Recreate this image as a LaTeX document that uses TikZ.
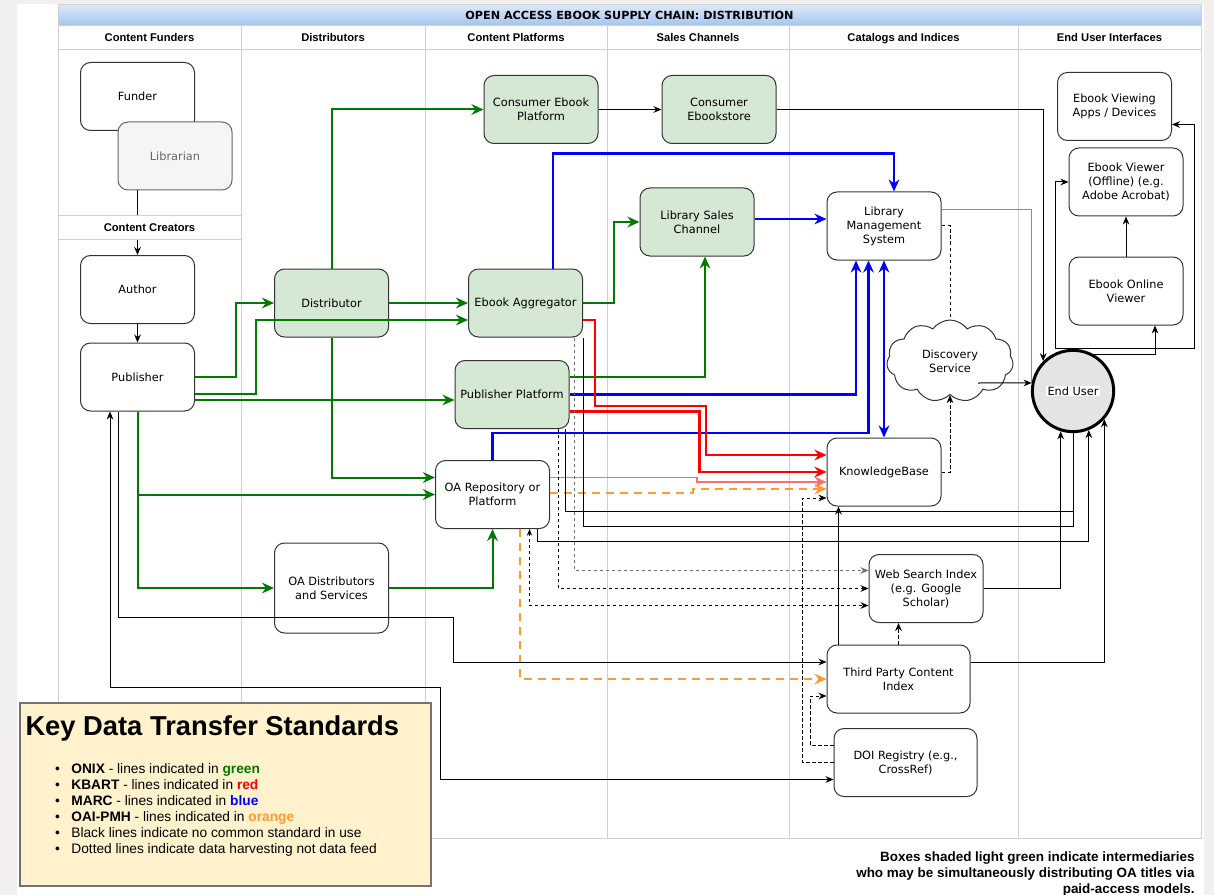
\documentclass[tikz,border=0pt]{standalone}
\usepackage{fontspec}
\setmainfont{DejaVu Sans}
\newfontfamily\arialfont{Liberation Sans}
\usetikzlibrary{arrows.meta,shapes.symbols,calc}

\definecolor{boxgreen}{RGB}{213,232,212}
\definecolor{librgray}{RGB}{245,245,245}
\definecolor{usergray}{RGB}{228,228,228}
\definecolor{onixgreen}{RGB}{0,122,0}
\definecolor{kbartred}{RGB}{255,0,0}
\definecolor{kbartlight}{RGB}{255,110,110}
\definecolor{marcblue}{RGB}{0,0,255}
\definecolor{oaiorange}{RGB}{255,153,51}
\definecolor{lanegray}{RGB}{208,208,208}
\definecolor{keyyellow}{RGB}{255,242,204}
\definecolor{sidegray}{RGB}{241,240,238}
\definecolor{titletop}{RGB}{218,232,252}
\definecolor{titlebottom}{RGB}{166,194,236}

\tikzset{every picture/.style={line width=0.75pt}}
\tikzset{
  box/.style={draw=black!80, fill=white, rounded corners=7.5pt, minimum width=85.5pt, minimum height=51pt, inner sep=1pt, align=center, font=\fontsize{8.5}{10.5}\selectfont},
  greenbox/.style={box, fill=boxgreen},
  widebox/.style={box, minimum width=107.25pt},
  lane/.style={draw=lanegray},
  lanehead/.style={font=\arialfont\bfseries\fontsize{8.4}{10}\selectfont, text height=6.2pt, text depth=1.6pt},
  feed/.style={draw=black, -{Stealth[length=6pt,width=5pt]}},
  harvest/.style={feed, dash pattern=on 2.5pt off 2pt},
  onix/.style={draw=onixgreen, line width=1.5pt, -{Stealth[length=9pt,width=8pt]}},
  kbart/.style={draw=kbartred, line width=1.8pt, -{Stealth[length=9pt,width=8pt]}},
  marc/.style={draw=marcblue, line width=1.8pt, -{Stealth[length=9pt,width=8pt]}},
  oaipmh/.style={draw=oaiorange, line width=1.5pt, dash pattern=on 6pt off 4.5pt, -{Stealth[length=9pt,width=8pt]}},
  keyline/.style={anchor=base west, inner sep=0pt, font=\arialfont\fontsize{10.3}{12}\selectfont},
  notetext/.style={anchor=base east, inner sep=0pt, font=\arialfont\bfseries\fontsize{10.1}{12}\selectfont},
}

\begin{document}
\begin{tikzpicture}[x=0.75pt,y=0.75pt,yscale=-1,xscale=1]
        \useasboundingbox (0,0) rectangle (1214,895);

        % page and pool
        \fill[white] (0,0) rectangle (1214,895);
        \fill[sidegray] (0,0) rectangle (17,895);
        \fill[sidegray] (0,0) rectangle (1214,4);
        \fill[sidegray] (1204,0) rectangle (1214,895);
        \draw[lane] (58,5) rectangle (1201,838);
        \shade[top color=titletop, bottom color=titlebottom, draw=lanegray] (58,5) rectangle (1201,26);
        \draw[lane] (58,50) -- (1201,50);
        \foreach \lx in {241,425,607,789,1018}
            \draw[lane] (\lx,26) -- (\lx,838);

        % Text Node
        \node[font=\bfseries\fontsize{8.4}{10}\selectfont] (title) at (629.5,15.5) {OPEN ACCESS EBOOK SUPPLY CHAIN: DISTRIBUTION};
        \foreach \cx/\lab [count=\i] in {149.5/Content Funders, 333/Distributors, 516/Content Platforms, 698/Sales Channels, 903.5/Catalogs and Indices, 1109.5/End User Interfaces}
            \node[lanehead] (lane\i) at (\cx,38) {\lab};

        % funders and creators
        \node[box] (funder) at (137.5,96.5) {Funder};
        \node[box] (author) at (137.5,289.5) {Author};
        \draw[feed] (funder) -- (author);
        \node[box, fill=librgray, draw=black!60, text=black!60] (librarian) at (175,156) {Librarian};
        \node[lanehead, draw=lanegray, fill=white, minimum width=137.25pt, minimum height=18pt] (creators) at (149.5,228) {Content Creators};
        \node[box] (pub) at (137.5,377) {Publisher};
        \draw[feed] (author) -- (pub);

        % distributors and platforms
        \node[greenbox] (dist) at (331.5,303) {Distributor};
        \node[box, minimum height=67.5pt] (oad) at (331.5,588) {OA Distributors\\and Services};
        \node[greenbox] (cep) at (541,109.5) {Consumer Ebook\\Platform};
        \node[greenbox] (ea) at (525.5,303) {Ebook Aggregator};
        \node[greenbox] (pp) at (512,394.5) {Publisher Platform};
        \node[box] (oa) at (492.5,494.5) {OA Repository or\\Platform};

        % sales channels, catalogs
        \node[greenbox] (ces) at (719,109.5) {Consumer\\Ebookstore};
        \node[greenbox] (lsc) at (697,222) {Library Sales\\Channel};
        \node[box] (lms) at (884,226) {Library\\Management\\System};
        \node[box] (kb) at (884,472) {KnowledgeBase};
        \node[cloud, draw=black!80, fill=white, cloud puffs=11, cloud puff arc=110, aspect=1.55, minimum width=95pt, minimum height=61.5pt, inner sep=0pt, align=center, font=\fontsize{8.5}{10.5}\selectfont] (disc) at (950,361) {Discovery\\Service};
        \node[box] (wsi) at (926,588.5) {Web Search Index\\(e.g. Google\\Scholar)};
        \node[widebox] (tpci) at (898.5,679) {Third Party Content\\Index};
        \node[widebox] (doi) at (905.5,762.5) {DOI Registry (e.g.,\\CrossRef)};

        % end user side
        \node[circle, draw=black, line width=2.25pt, fill=usergray, minimum size=61pt, inner sep=0pt, font=\fontsize{8.5}{10.5}\selectfont] (enduser) at (1073,391) {{\setlength{\fboxsep}{0.8pt}\colorbox{white}{End User}}};
        \node[box] (eva) at (1114.5,106.5) {Ebook Viewing\\Apps / Devices};
        \node[box] (evo) at (1126,182) {Ebook Viewer\\(Offline) (e.g.\\Adobe Acrobat)};
        \node[box] (eov) at (1126,291) {Ebook Online\\Viewer};

        % ONIX
        \draw[onix] (pub.east) -- ++(41,0) |- (dist.west);
        \draw[onix] ($(pub.east)+(0,17)$) -- ++(61,0) |- ($(ea.west)+(0,17)$);
        \draw[onix] ($(pub.east)+(0,23)$) -- ($(pp.west)+(0,5.5)$);
        \draw[onix] (dist.east) -- (ea.west);
        \draw[onix] (dist.north) |- (cep.west);
        \draw[onix] (dist.south) |- ($(oa.west)+(0,-17)$);
        \draw[onix] (pub.south) |- (oa.west);
        \draw[onix] (pub.south) |- (oad.west);
        \draw[onix] (oad.east) -| (oa.south);
        \draw[onix] (ea.east) -- ++(31,0) |- (lsc.west);
        \draw[onix] ($(pp.east)+(0,-17.5)$) -| ($(lsc.south)+(8,0)$);

        % MARC
        \draw[marc] ($(ea.north)+(27.5,0)$) |- ($(lms.north)+(10,-38)$) -- ($(lms.north)+(10,0)$);
        \draw[marc] ($(lsc.east)+(0,-3)$) -- ($(lms.west)+(0,-7)$);
        \draw[marc] (pp.east) -| ($(lms.south)+(-28,0)$);
        \draw[marc] (oa.north) -- ++(0,-27) -| ($(lms.south)+(-15.5,0)$);
        \draw[marc, {Stealth[length=9pt,width=8pt]}-{Stealth[length=9pt,width=8pt]}] (lms.south) -- (kb.north);

        % KBART
        \draw[kbart] ($(ea.east)+(0,17)$) -- ++(12,0) |- (706,406) |- ($(kb.west)+(0,-17)$);
        \draw[kbart] ($(pp.east)+(0,17)$) -- ++(130,0) |- (kb.west);
        \draw[kbart, draw=kbartlight, line width=1.2pt] ($(oa.east)+(0,-17)$) -- ++(147,0) |- ($(kb.west)+(0,10)$);

        % OAI-PMH
        \draw[oaipmh] ($(oa.east)+(0,-2)$) -- ++(143,0) |- ($(kb.west)+(0,17)$);
        \draw[oaipmh] ($(oa.south)+(27,0)$) |- (tpci.west);

        % no common standard
        \draw[feed] (cep) -- (ces);
        \draw[feed] (ces.east) -| (enduser.north west);
        \draw[draw=black!45] ($(lms.east)+(0,-16)$) -| (enduser.172);
        \draw[feed] ($(disc.center)+(28,22)$) -- (enduser.169);
        \draw[feed] (enduser.60) -| ($(eov.south)+(29,0)$);
        \draw[feed] (enduser.north) -- ++(-18,0) |- (evo.west);
        \draw[feed] (enduser.north) -- ++(121,0) |- ($(eva.east)+(0,18)$);
        \draw[feed] (eov) -- (evo);
        \draw[feed] (wsi.east) -| (enduser.-107);
        \draw[feed] ($(tpci.east)+(0,-17)$) -| (enduser.-42);
        \draw (ea.south east) -- ++(0,189) -| (enduser.south);
        \draw ($(pp.south)+(53,0)$) -- ++(0,82) -| (enduser.south);
        \draw[feed] ($(oa.south)+(45,0)$) -- ++(0,12) -| (enduser.-68);
        \draw[feed] ($(pub.south)+(-19.5,0)$) |- (453,617) |- ($(tpci.west)+(0,-17)$);
        \draw[{Stealth[length=6pt,width=5pt]}-{Stealth[length=6pt,width=5pt]}] ($(pub.south)+(-27.5,0)$) |- (440,687) |- ($(doi.west)+(0,17)$);
        \draw[feed] ($(tpci.north west)+(12,0)$) -- ($(kb.south west)+(12,0)$);

        % harvesting
        \draw[harvest, draw=black!55] ($(ea.south)+(49,0)$) |- ($(wsi.west)+(0,-18)$);
        \draw[harvest] ($(pp.south)+(46,0)$) |- (wsi.west);
        \draw[harvest, {Stealth[length=5pt,width=4pt]}-{Stealth[length=6pt,width=5pt]}] ($(oa.south)+(37,0)$) |- ($(wsi.west)+(0,17)$);
        \draw[harvest] (doi.west) -- ++(-31,0) |- ($(kb.west)+(0,26)$);
        \draw[harvest] ($(doi.west)+(0,-17)$) -- ++(-23,0) |- ($(tpci.west)+(0,17)$);
        \draw[harvest] (kb.east) -| (disc.south);
        \draw[harvest, -] (lms.east) -| (disc.north);
        \draw[harvest] (tpci.north) -- (tpci.north |- wsi.south);

        % key
        \draw[draw=black!55, fill=keyyellow, line width=1pt] (20,703) rectangle (431,886);
        \node[anchor=base west, inner sep=0pt, font=\arialfont\bfseries\fontsize{20.5}{24}\selectfont] (keytitle) at (25,735) {Key Data Transfer Standards};
        \foreach \txt [count=\i] in {{\textbf{ONIX} - lines indicated in \textcolor{onixgreen}{\textbf{green}}},
                                     {\textbf{KBART} - lines indicated in \textcolor{kbartred}{\textbf{red}}},
                                     {\textbf{MARC} - lines indicated in \textcolor{marcblue}{\textbf{blue}}},
                                     {\textbf{OAI-PMH} - lines indicated in \textcolor{oaiorange}{\textbf{orange}}},
                                     {Black lines indicate no common standard in use},
                                     {Dotted lines indicate data harvesting not data feed}}
            \node[keyline] (key\i) at (54.5,757+16*\i) {\makebox[12.3pt][l]{\textbullet}\txt};

        % Text Node
        \foreach \txt [count=\i] in {Boxes shaded light green indicate intermediaries, who may be simultaneously distributing OA titles via, paid-access models.}
            \node[notetext] (note\i) at (1195,845.5+16*\i) {\txt};

\end{tikzpicture}
\end{document}
